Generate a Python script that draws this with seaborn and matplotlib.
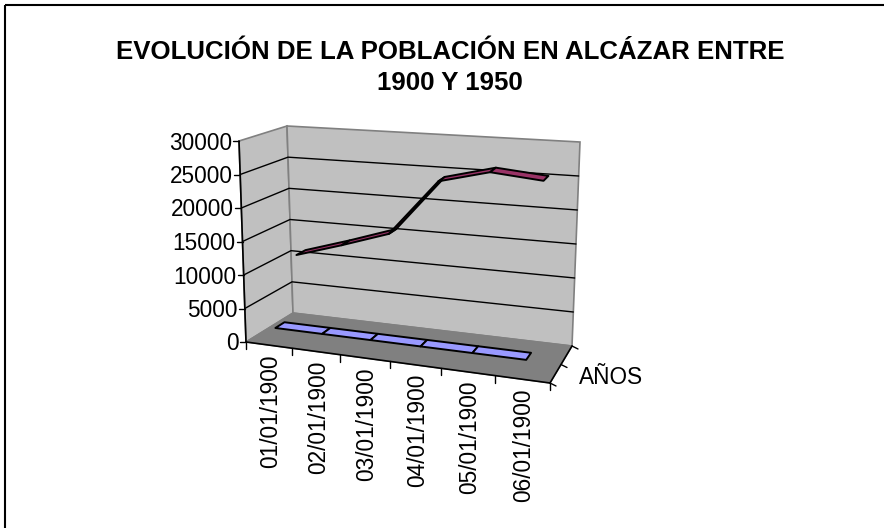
import numpy as np
import matplotlib
matplotlib.use("Agg")
import matplotlib.pyplot as plt
from matplotlib.patches import Polygon, Rectangle
import seaborn as sns

# -------------------------------
# Data
# -------------------------------
categories = ["01/01/1900", "02/01/1900", "03/01/1900",
              "04/01/1900", "05/01/1900", "06/01/1900"]
anos = [1900, 1910, 1920, 1930, 1940, 1950]             # front row (blue)
poblacion = [11000, 13200, 15600, 24100, 26000, 25300]  # back row (pink)
series_label = "AÑOS"
value_ticks = [0, 5000, 10000, 15000, 20000, 25000, 30000]
title_lines = ["EVOLUCIÓN DE LA POBLACIÓN EN ALCÁZAR ENTRE", "1900 Y 1950"]

VMAX = value_ticks[-1]
NCAT = len(categories)

# -------------------------------
# Look
# -------------------------------
sns.set_theme(style="white")
plt.rcParams['font.family'] = ['Liberation Sans', 'DejaVu Sans']
plt.rcParams['text.color'] = 'black'

WALL = "#c0c0c0"
FLOOR = "#808080"
EDGE = "#808080"
BLUE = "#9999ff"
PINK = "#993366"

# screen position (pixels) of the 8 corners of the 3D box, [cat][value][depth]
CORNERS = np.zeros((2, 2, 2, 2))
CORNERS[0, 0, 0] = (246, 342)
CORNERS[0, 1, 0] = (239, 141)
CORNERS[1, 0, 0] = (550, 383)
CORNERS[1, 1, 0] = (558, 165)
CORNERS[0, 0, 1] = (293, 313)
CORNERS[0, 1, 1] = (287, 126)
CORNERS[1, 0, 1] = (572, 346)
CORNERS[1, 1, 1] = (580, 142)
PERSP = 0.9  # right side is nearer the viewer


def proj(c, v, d):
    """category position, value, depth (0 front .. 1 back) -> pixel xy"""
    c = np.atleast_1d(np.asarray(c, float)) / NCAT
    c = c * PERSP / (1 + c * (PERSP - 1))
    v = np.atleast_1d(np.asarray(v, float)) / VMAX
    d = np.atleast_1d(np.asarray(d, float))
    c, v, d = np.broadcast_arrays(c, v, d)
    out = np.zeros(c.shape + (2,))
    for i in (0, 1):
        for j in (0, 1):
            for k in (0, 1):
                w = (c if i else 1 - c) * (v if j else 1 - v) * (d if k else 1 - d)
                out += w[..., None] * CORNERS[i, j, k]
    return out


fig = plt.figure(figsize=(8.84, 5.28), dpi=100)
ax = fig.add_axes([0, 0, 1, 1])
ax.set_xlim(0, 884)
ax.set_ylim(528, 0)
ax.axis("off")

# walls and floor
side = proj([0, 0, 0, 0], [0, VMAX, VMAX, 0], [0, 0, 1, 1])
back = proj([0, NCAT, NCAT, 0], [0, 0, VMAX, VMAX], [1, 1, 1, 1])
floor = proj([0, NCAT, NCAT, 0], [0, 0, 0, 0], [0, 0, 1, 1])
ax.add_patch(Polygon(side, closed=True, fc=WALL, ec=EDGE, lw=1.2, zorder=1))
ax.add_patch(Polygon(back, closed=True, fc=WALL, ec=EDGE, lw=1.2, zorder=1))
ax.add_patch(Polygon(floor, closed=True, fc=FLOOR, ec=EDGE, lw=1.0, zorder=2))

# gridlines on side and back wall
for v in value_ticks[1:-1]:
    g = proj([0, 0, NCAT], [v, v, v], [0, 1, 1])
    ax.plot(g[:, 0], g[:, 1], color="black", lw=1.0, zorder=3)

# value axis
va = proj([0, 0], [0, VMAX], [0, 0])
ax.plot(va[:, 0], va[:, 1], color="black", lw=1.2, zorder=6)
for v in value_ticks:
    p = proj(0, v, 0)[0]
    ax.plot([p[0] - 6, p[0]], [p[1], p[1]], color="black", lw=1.0, zorder=6)
    ax.text(p[0] - 7, p[1] + 2, f"{v}", ha="right", va="center",
            fontsize=16.3, color="black")

# category axis
ca = proj([0, NCAT], [0, 0], [0, 0])
ax.plot(ca[:, 0], ca[:, 1], color="black", lw=1.2, zorder=6)
for i in range(NCAT + 1):
    p = proj(i, 0, 0)[0]
    ax.plot([p[0], p[0]], [p[1], p[1] + 7], color="black", lw=1.0, zorder=6)
for i, lab in enumerate(categories):
    p = proj(i + 0.5, 0, 0)[0]
    ax.text(p[0] + 2, p[1] + 9, lab, rotation=90, ha="center", va="top",
            fontsize=16.3, color="black")

# depth (series) axis
da = proj([NCAT, NCAT], [0, 0], [0, 1])
ax.plot(da[:, 0], da[:, 1], color="black", lw=1.2, zorder=6)
for d in [0, 0.5, 1]:
    p = proj(NCAT, 0, d)[0]
    ax.plot([p[0], p[0] + 6], [p[1], p[1] + 3], color="black", lw=1.0, zorder=6)
p = proj(NCAT, 0, 0.25)[0]
ax.text(p[0] + 23, p[1] + 4, series_label, ha="left", va="center",
        fontsize=16.3, color="black")


def ribbon(values, depth, color, z):
    half = 0.1
    for i in range(len(values) - 1):
        q = proj([i + 0.5, i + 1.5, i + 1.5, i + 0.5],
                 [values[i], values[i + 1], values[i + 1], values[i]],
                 [depth - half, depth - half, depth + half, depth + half])
        ax.add_patch(Polygon(q, closed=True, fc=color, ec="black", lw=1.4,
                             joinstyle="round", zorder=z))


ribbon(poblacion, 0.75, PINK, 4)
ribbon(anos, 0.25, BLUE, 5)

# title
fig.text(450 / 884, 1 - 52 / 528, title_lines[0], ha="center", va="center",
         fontsize=18.6, fontweight="bold", color="black")
fig.text(450 / 884, 1 - 83 / 528, title_lines[1], ha="center", va="center",
         fontsize=18.6, fontweight="bold", color="black")

# chart frame
ax.add_patch(Rectangle((5, 5), 900, 540, fill=False, ec="black", lw=1.5,
                       clip_on=False, zorder=10))

fig.savefig("out.png", dpi=100)
